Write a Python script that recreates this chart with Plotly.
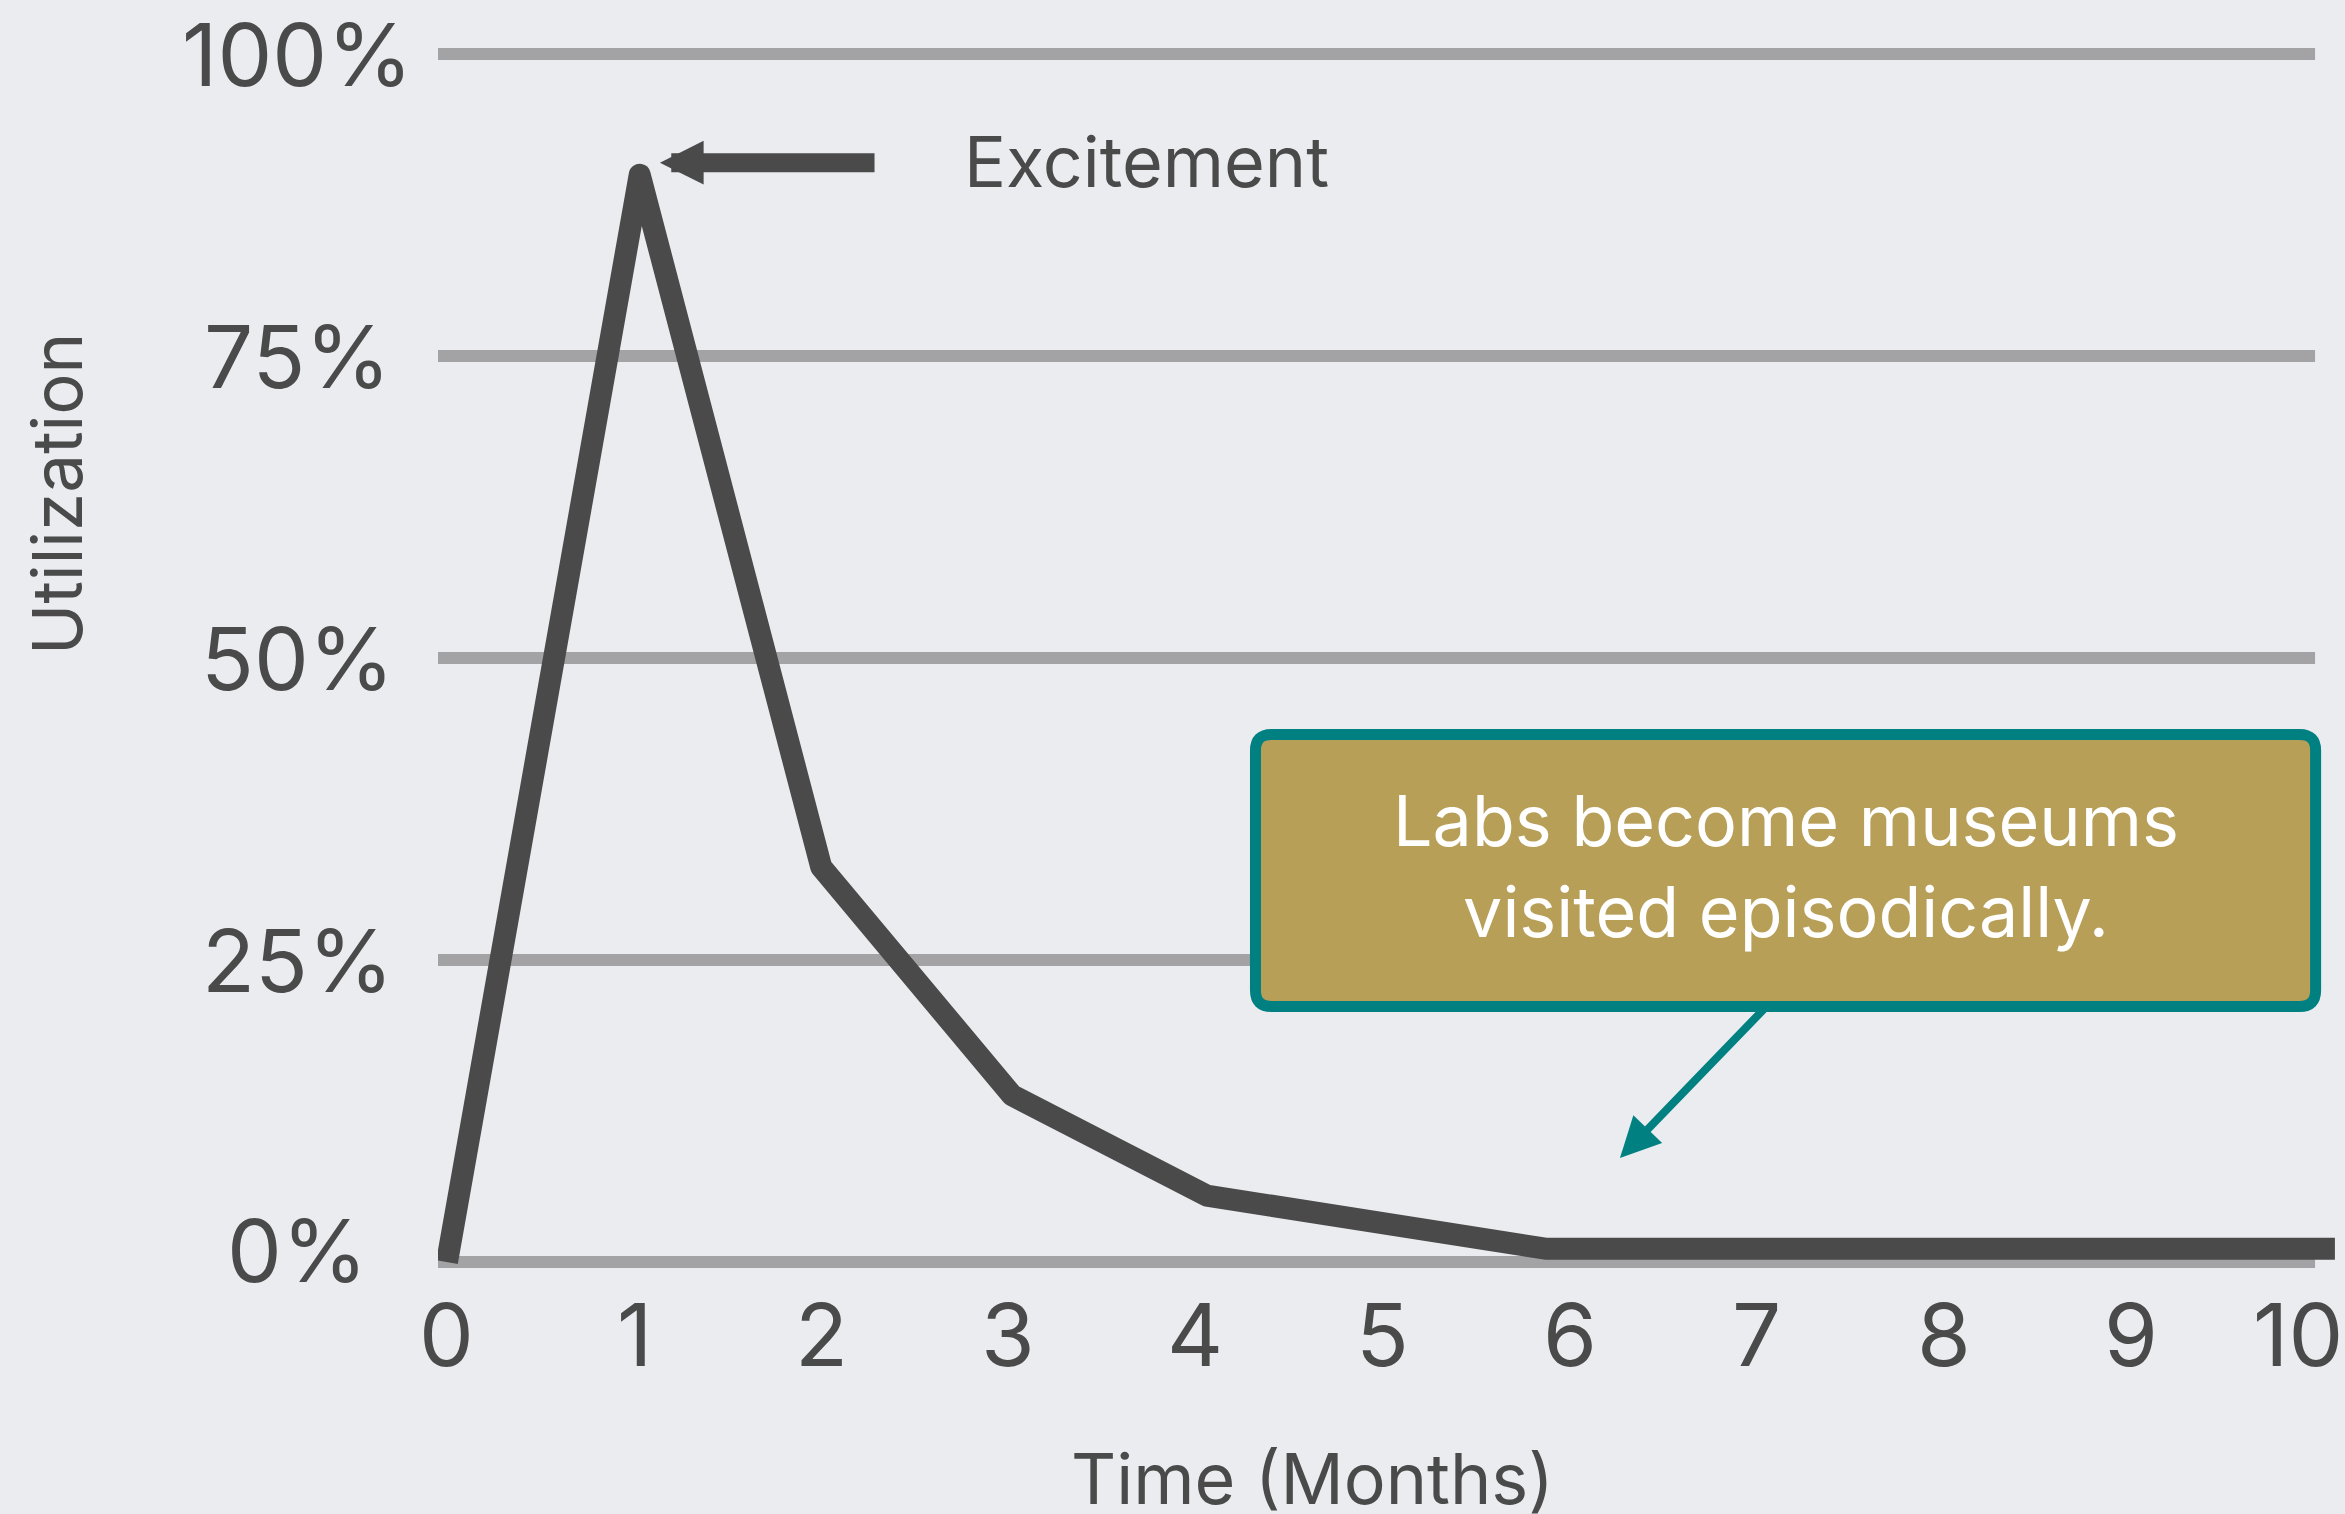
import plotly.graph_objects as go

# ---------------- data ----------------
time_months = [0, 1.03, 2.0, 3.02, 4.06, 5.87, 10.09]
utilization = [0, 90, 32.7, 13.8, 5.5, 1.1, 1.1]

x_tick_vals = [0, 1, 2, 3, 4, 5, 6, 7, 8, 9, 10]
x_tick_text = ["0", "1", "2", "3", "4", "5", "6", "7", "8", "9", "10"]
y_tick_vals = [0, 25, 50, 75, 100]
y_tick_text = ["0%", "25%", "50%", "75%", "100%"]

x_title = "Time (Months)"
y_title = "Utilization"
peak_label = "Excitement"
callout_text = "Labs become museums<br>visited episodically."

# ---------------- style ----------------
W, H = 2345, 1514
BG = "#EBECF0"
GRID = "#A3A3A5"
INK = "#4A4A4A"
GOLD = "#B89F58"
TEAL = "#008080"
FONT = "Inter"

L, R, T, B = 438, 2345, 0, 1276  # plot area in pixels
X_RANGE = [-0.048, 10.144]
Y_RANGE = [-1.159, 104.47]
XPX = 187.1   # pixels per month
YPX = 12.08   # pixels per percent
Y_LABEL_SHIFT = {0: 12}    # small vertical nudge of the 0% label (px)
X_LABEL_SHIFT = {10: -20}  # keep the last month label inside the page (px)


def px_x(p):
    return (p - L) / (R - L)


def px_y(p):
    return (B - p) / (B - T)


fig = go.Figure()
fig.add_trace(go.Scatter(
    x=time_months, y=utilization, mode="lines",
    line=dict(color=INK, width=22),
    hoverinfo="skip", showlegend=False,
))

shapes = []
# horizontal grid lines
for v in y_tick_vals:
    shapes.append(dict(type="line", xref="x", yref="y", x0=-0.048, x1=9.984,
                       y0=v, y1=v, line=dict(color=GRID, width=12), layer="below"))

# rounded callout box (data coords)
bx0, bx1, by0, by1 = 4.321, 9.987, 21.15, 43.67
rx, ry = 16 / XPX, 16 / YPX
path = (f"M {bx0+rx},{by1} L {bx1-rx},{by1} Q {bx1},{by1} {bx1},{by1-ry} "
        f"L {bx1},{by0+ry} Q {bx1},{by0} {bx1-rx},{by0} "
        f"L {bx0+rx},{by0} Q {bx0},{by0} {bx0},{by0+ry} "
        f"L {bx0},{by1-ry} Q {bx0},{by1} {bx0+rx},{by1} Z")
shapes.append(dict(type="path", xref="x", yref="y", path=path,
                   fillcolor=GOLD, line=dict(color=TEAL, width=11), layer="above"))

annotations = [
    # Excitement arrow
    dict(x=1.138, y=91.0, ax=2.293, ay=91.0, xref="x", yref="y", axref="x", ayref="y",
         text="", showarrow=True, arrowhead=2, arrowsize=0.46, arrowwidth=19,
         arrowcolor=INK, standoff=0),
    dict(x=2.753, y=91.1, xref="x", yref="y", text=peak_label, showarrow=False,
         xanchor="left", yanchor="middle", font=dict(family=FONT, size=70, color=INK)),
    # callout arrow
    dict(x=6.269, y=8.61, ax=7.044, ay=21.03, xref="x", yref="y", axref="x", ayref="y",
         text="", showarrow=True, arrowhead=2, arrowsize=1.0, arrowwidth=8,
         arrowcolor=TEAL, standoff=0),
    # callout text
    dict(x=7.154, y=32.8, xref="x", yref="y", text=callout_text, showarrow=False,
         xanchor="center", yanchor="middle", align="center",
         font=dict(family=FONT, size=70, color="white")),
    # axis titles
    dict(x=px_x(57), y=px_y(494), xref="paper", yref="paper", text=y_title,
         textangle=-90, showarrow=False, xanchor="center", yanchor="middle",
         font=dict(family=FONT, size=69, color=INK)),
    dict(x=px_x(1312), y=px_y(1478), xref="paper", yref="paper", text=x_title,
         showarrow=False, xanchor="center", yanchor="middle",
         font=dict(family=FONT, size=70, color=INK)),
]

# y tick labels, centred in a column left of the grid
for v, t in zip(y_tick_vals, y_tick_text):
    annotations.append(dict(x=px_x(297), y=v, xref="paper", yref="y", text=t,
                            showarrow=False, xanchor="center", yanchor="middle",
                            yshift=Y_LABEL_SHIFT.get(v, 0),
                            font=dict(family=FONT, size=87, color=INK)))

# x tick labels below the axis
for v, t in zip(x_tick_vals, x_tick_text):
    annotations.append(dict(x=v, y=px_y(1334), xref="x", yref="paper", text=t,
                            showarrow=False, xanchor="center", yanchor="middle",
                            xshift=X_LABEL_SHIFT.get(v, 0),
                            font=dict(family=FONT, size=87, color=INK)))

fig.update_layout(
    template="none",
    width=W, height=H, autosize=False,
    margin=dict(l=L, r=W - R, t=T, b=H - B, pad=0, autoexpand=False),
    paper_bgcolor=BG, plot_bgcolor=BG,
    shapes=shapes, annotations=annotations,
    showlegend=False,
    xaxis=dict(range=X_RANGE, tickvals=x_tick_vals, showticklabels=False,
               showgrid=False, zeroline=False, showline=False, ticks="",
               automargin=False),
    yaxis=dict(range=Y_RANGE, tickvals=y_tick_vals, showticklabels=False,
               automargin=False,
               showgrid=False, zeroline=False, showline=False, ticks=""),
)

fig.write_html(
    "out.html",
    config={"displayModeBar": False, "responsive": False},
    post_script=(
        "document.body.style.margin='0';"
        "document.body.style.overflow='hidden';"
        "document.body.style.background='#EBECF0';"
        "var gd=document.getElementById('{plot_id}');"
        "if(gd){gd.querySelectorAll('.js-line').forEach(function(p){"
        "p.style.strokeLinejoin='round';});}"
    ),
)
